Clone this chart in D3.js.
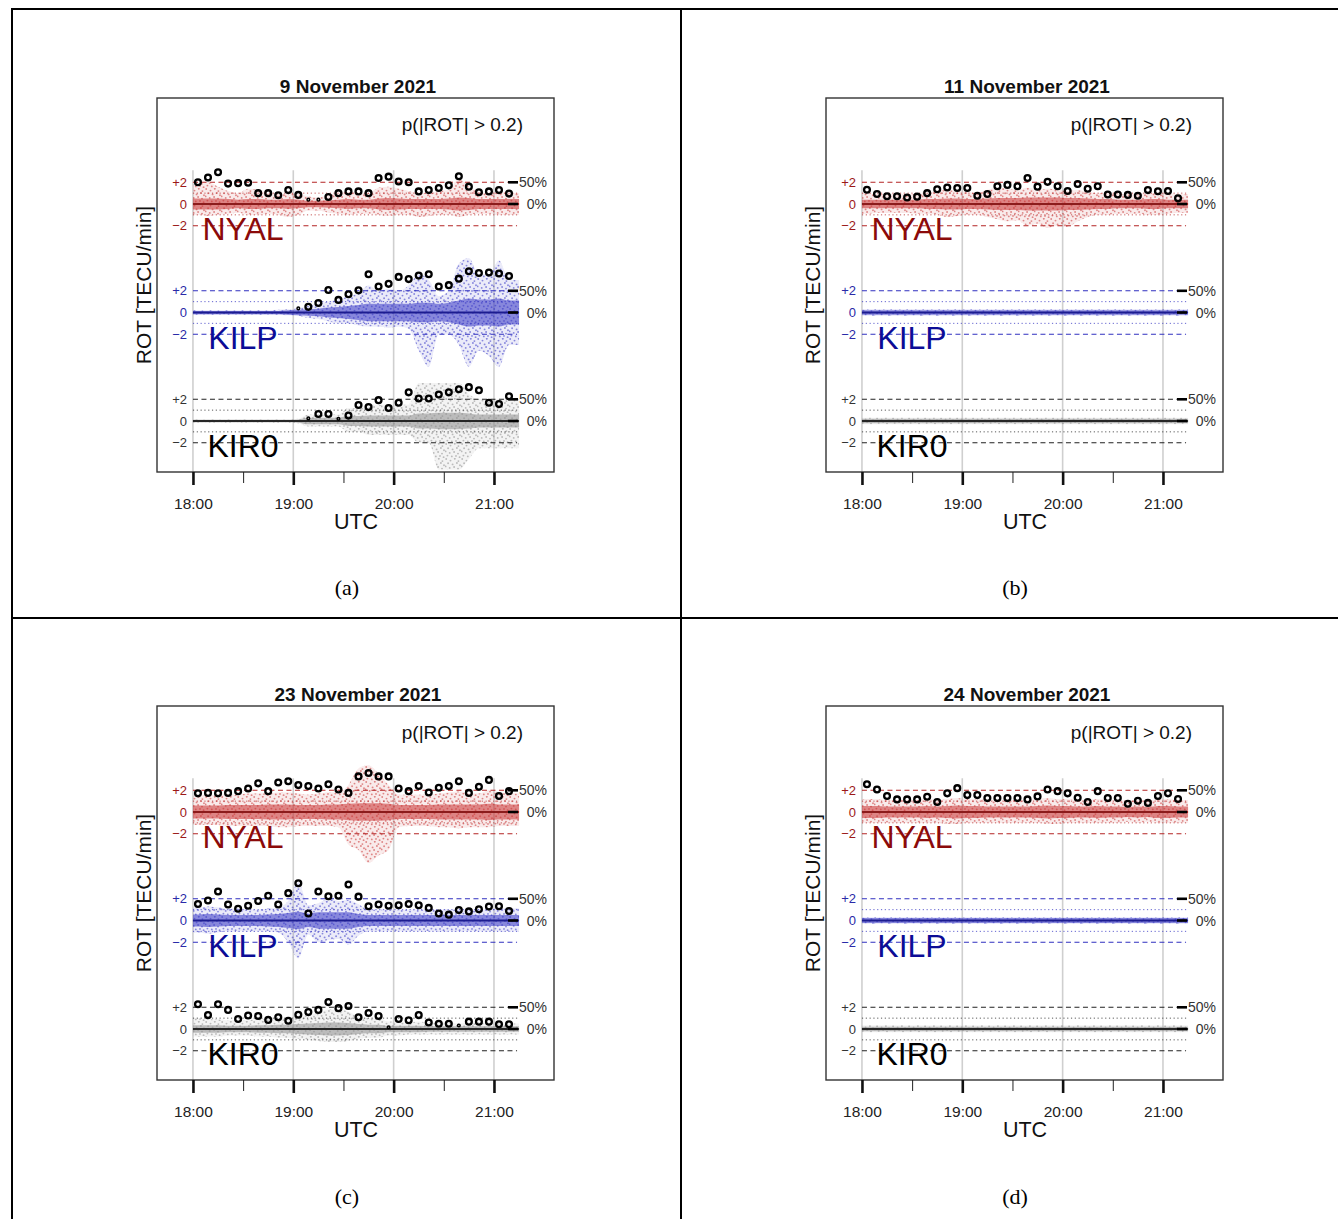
<!DOCTYPE html>
<html>
<head>
<meta charset="utf-8">
<script src="https://cdn.jsdelivr.net/npm/d3@7"></script>
<style>
  html, body { margin: 0; padding: 0; background: #fff; }
  svg { display: block; font-family: "Liberation Sans", Arial, Helvetica, sans-serif; }
</style>
</head>
<body>
<svg id="fig" width="1338" height="1219"></svg>
<script>
// ---------------------------------------------------------------
// Rate of TEC (ROT) at three stations, four evenings in Nov 2021.
// Circles: share of samples with |ROT| > 0.2 in 6-minute bins
// (right-hand % scale, 50% aligned with +2 TECU/min).
// Clouds: spread of ROT samples per bin (outer extent + dense core).
// ---------------------------------------------------------------

const days = ["9 November 2021", "11 November 2021", "23 November 2021", "24 November 2021"];
const panelTags = ["(a)", "(b)", "(c)", "(d)"];
const stations = ["NYAL", "KILP", "KIR0"];
const hourTicks = ["18:00", "19:00", "20:00", "21:00"];
const halfHourTicks = ["18:30", "19:30", "20:30"];
const rotTickValues = [2, 0, -2];
const rotTickLabels = ["+2", "0", "\u22122"];
const pctTickValues = [50, 0];
const pctTickLabels = ["50%", "0%"];
const dataStart = "18:00";
const dataEnd = "21:15";

// 6-minute bin centres
const binTimes = ["18:03","18:09","18:15","18:21","18:27","18:33","18:39","18:45","18:51","18:57",
                  "19:03","19:09","19:15","19:21","19:27","19:33","19:39","19:45","19:51","19:57",
                  "20:03","20:09","20:15","20:21","20:27","20:33","20:39","20:45","20:51","20:57",
                  "21:03","21:09"];

// ---------- 9 November 2021 ----------
const pct_NYAL_09 = [50,61,73,47,48,49,25,25,20,32,21,10,10,16,25,29,29,25,60,63,52,50,29,32,37,43,64,40,27,29,32,24];
const hi_NYAL_09  = [1.8,2.0,1.6,1.2,1.0,1.4,1.3,1.0,0.9,1.0,0.9,0.7,0.6,0.8,1.0,1.1,1.0,1.0,1.5,1.6,1.4,1.2,1.0,1.0,1.2,1.3,2.3,1.6,1.1,1.0,1.1,1.0];
const lo_NYAL_09  = [-1.0,-1.1,-1.0,-0.9,-0.8,-1.0,-1.0,-0.9,-1.0,-1.2,-1.0,-0.6,-0.6,-0.8,-0.9,-1.0,-0.9,-0.9,-1.0,-1.1,-1.0,-1.0,-1.2,-1.1,-1.0,-1.0,-1.2,-1.0,-0.9,-0.9,-1.0,-1.0];
const core_NYAL_09 = [0.5,0.5,0.5,0.45,0.4,0.45,0.45,0.4,0.4,0.45,0.4,0.3,0.3,0.35,0.4,0.45,0.4,0.4,0.5,0.55,0.5,0.45,0.45,0.45,0.45,0.5,0.6,0.55,0.45,0.45,0.45,0.45];

const pct_KILP_09 = [null,null,null,null,null,null,null,null,null,null,9.5,13,22,52,29,42,51,88,60,66,82,77,85,88,60,63,78,95,91,92,90,84];
const hi_KILP_09  = [0.2,0.2,0.2,0.2,0.2,0.2,0.2,0.2,0.25,0.3,0.4,0.6,0.8,1.0,1.2,1.5,1.8,2.5,2.0,2.2,2.0,2.5,3.5,3.0,1.5,2.0,4.5,5.0,3.5,3.5,4.8,3.0];
const lo_KILP_09  = [-0.2,-0.2,-0.2,-0.2,-0.2,-0.2,-0.2,-0.2,-0.2,-0.25,-0.3,-0.5,-0.6,-0.8,-1.0,-1.0,-1.2,-1.3,-1.3,-1.4,-1.3,-1.5,-3.5,-5.0,-2.0,-2.0,-3.0,-5.0,-3.5,-4.0,-5.0,-3.0];
const core_KILP_09 = [0.15,0.15,0.15,0.15,0.15,0.15,0.15,0.15,0.15,0.2,0.25,0.3,0.35,0.45,0.5,0.6,0.7,0.8,0.8,0.8,0.8,0.8,0.9,0.9,0.8,0.9,1.1,1.3,1.2,1.2,1.3,1.1];

const pct_KIR0_09 = [null,null,null,null,null,null,null,null,null,null,null,6,16,16,5,12.5,37,32,48,30,42,66,52,52,61,66,73,78,71,42,39,57];
const hi_KIR0_09  = [0.15,0.15,0.15,0.15,0.15,0.15,0.15,0.15,0.15,0.15,0.2,0.6,0.6,0.6,0.6,1.2,1.2,1.5,1.5,1.5,1.5,1.5,3.5,3.5,3.5,3.5,3.5,2.5,2.0,2.0,2.0,2.0];
const lo_KIR0_09  = [-0.15,-0.15,-0.15,-0.15,-0.15,-0.15,-0.15,-0.15,-0.15,-0.15,-0.2,-0.5,-0.5,-0.5,-0.5,-1.0,-1.0,-1.3,-1.3,-1.3,-1.3,-1.3,-2.0,-2.0,-4.5,-4.5,-4.5,-3.5,-2.5,-2.5,-2.5,-2.5];
const core_KIR0_09 = [0.12,0.12,0.12,0.12,0.12,0.12,0.12,0.12,0.12,0.12,0.15,0.3,0.3,0.3,0.3,0.45,0.45,0.5,0.5,0.5,0.5,0.5,0.7,0.7,0.75,0.75,0.75,0.7,0.6,0.6,0.6,0.6];

// ---------- 11 November 2021 ----------
const pct_NYAL_11 = [33,23,18,18,15,17,25,34,38,37,37,19,23,41,44,41,60,40,51,41,30,46,35,41,22,22,21,19,32,29.5,30,13];
const hi_NYAL_11  = [1.0,0.9,0.9,0.9,0.9,0.9,1.0,1.2,1.3,1.2,1.1,1.0,1.3,1.5,1.4,1.3,1.5,1.3,1.4,1.3,1.2,1.3,1.1,1.0,1.0,0.9,0.9,0.9,1.0,1.0,1.0,0.9];
const lo_NYAL_11  = [-0.9,-0.8,-0.8,-0.8,-0.8,-0.9,-0.9,-1.0,-1.2,-1.1,-1.0,-1.0,-1.2,-1.4,-1.6,-1.5,-2.0,-1.8,-2.2,-2.0,-2.1,-1.6,-1.2,-1.0,-1.0,-0.9,-0.9,-0.9,-1.0,-1.0,-0.9,-0.8];
const core_NYAL_11 = [0.4,0.4,0.4,0.4,0.4,0.4,0.45,0.45,0.5,0.5,0.45,0.45,0.5,0.55,0.55,0.55,0.6,0.6,0.6,0.6,0.55,0.55,0.5,0.45,0.45,0.4,0.4,0.4,0.45,0.45,0.4,0.4];

const pct_KILP_11 = [null,null,null,null,null,null,null,null,null,null,null,null,null,null,null,null,null,null,null,null,null,null,null,null,null,null,null,null,null,null,null,null];
const hi_KILP_11  = [0.3,0.3,0.3,0.3,0.3,0.3,0.3,0.3,0.3,0.3,0.3,0.3,0.3,0.3,0.3,0.3,0.3,0.3,0.3,0.3,0.3,0.3,0.3,0.3,0.3,0.3,0.3,0.3,0.3,0.3,0.3,0.3];
const lo_KILP_11  = [-0.3,-0.3,-0.3,-0.3,-0.3,-0.3,-0.3,-0.3,-0.3,-0.3,-0.3,-0.3,-0.3,-0.3,-0.3,-0.3,-0.3,-0.3,-0.3,-0.3,-0.3,-0.3,-0.3,-0.3,-0.3,-0.3,-0.3,-0.3,-0.3,-0.3,-0.3,-0.3];
const core_KILP_11 = [0.2,0.2,0.2,0.2,0.2,0.2,0.2,0.2,0.2,0.2,0.2,0.2,0.2,0.2,0.2,0.2,0.2,0.2,0.2,0.2,0.2,0.2,0.2,0.2,0.2,0.2,0.2,0.2,0.2,0.2,0.2,0.2];

const pct_KIR0_11 = [null,null,null,null,null,null,null,null,null,null,null,null,null,null,null,null,null,null,null,null,null,null,null,null,null,null,null,null,null,null,null,null];
const hi_KIR0_11  = [0.3,0.3,0.3,0.3,0.3,0.3,0.3,0.3,0.3,0.3,0.3,0.3,0.3,0.3,0.3,0.3,0.3,0.3,0.3,0.3,0.3,0.3,0.3,0.3,0.3,0.3,0.3,0.3,0.3,0.3,0.3,0.3];
const lo_KIR0_11  = [-0.3,-0.3,-0.3,-0.3,-0.3,-0.3,-0.3,-0.3,-0.3,-0.3,-0.3,-0.3,-0.3,-0.3,-0.3,-0.3,-0.3,-0.3,-0.3,-0.3,-0.3,-0.3,-0.3,-0.3,-0.3,-0.3,-0.3,-0.3,-0.3,-0.3,-0.3,-0.3];
const core_KIR0_11 = [0.2,0.2,0.2,0.2,0.2,0.2,0.2,0.2,0.2,0.2,0.2,0.2,0.2,0.2,0.2,0.2,0.2,0.2,0.2,0.2,0.2,0.2,0.2,0.2,0.2,0.2,0.2,0.2,0.2,0.2,0.2,0.2];

// ---------- 23 November 2021 ----------
const pct_NYAL_23 = [43,44,43,44,48,54,66,48,68,71,62,60,54,64,52,44,82,90,82,82,54,48,60,45,56,60,71,44,58,74,37,48];
const hi_NYAL_23  = [1.5,1.5,1.6,1.6,1.6,1.7,1.7,1.7,1.8,1.8,1.7,1.6,1.7,1.8,1.8,2.5,4.0,4.3,3.5,2.5,1.6,1.6,1.6,1.6,1.7,1.8,1.9,1.7,1.7,2.0,1.8,1.7];
const lo_NYAL_23  = [-1.2,-1.2,-1.2,-1.3,-1.3,-1.3,-1.3,-1.3,-1.4,-1.4,-1.3,-1.3,-1.3,-1.3,-1.4,-3.0,-3.5,-4.7,-4.0,-3.5,-1.4,-1.3,-1.3,-1.3,-1.4,-1.4,-1.5,-1.4,-1.4,-1.4,-1.3,-1.3];
const core_NYAL_23 = [0.6,0.6,0.6,0.65,0.65,0.65,0.65,0.7,0.7,0.7,0.65,0.65,0.65,0.7,0.7,0.75,0.8,0.8,0.8,0.75,0.65,0.65,0.65,0.65,0.7,0.7,0.7,0.7,0.7,0.75,0.7,0.7];

const pct_KILP_23 = [38,46,67,37,27,34,45,57,37,63,86,16,67,56,57,83,55,33,37,34,35,38,35,29,16,13.5,24,21,26,32,33,22];
const hi_KILP_23  = [1.2,1.3,1.2,1.1,1.1,1.0,1.0,1.1,1.2,1.8,3.5,1.4,1.6,2.0,1.8,1.9,1.5,1.0,1.0,1.0,1.0,1.0,1.0,1.0,1.0,1.0,1.0,1.0,1.0,1.0,1.1,1.1];
const lo_KILP_23  = [-1.1,-1.2,-1.1,-1.0,-1.0,-1.0,-1.0,-1.0,-1.1,-2.0,-3.5,-1.3,-2.0,-1.8,-1.7,-2.2,-1.4,-1.0,-1.0,-1.0,-1.0,-1.0,-1.0,-1.0,-1.0,-1.0,-1.0,-1.0,-1.0,-1.0,-1.0,-1.0];
const core_KILP_23 = [0.55,0.6,0.55,0.5,0.5,0.5,0.5,0.55,0.6,0.7,0.8,0.6,0.75,0.75,0.75,0.75,0.6,0.5,0.5,0.5,0.5,0.5,0.5,0.5,0.5,0.5,0.5,0.5,0.5,0.5,0.5,0.5];

const pct_KIR0_23 = [57,32,57,44,23,31,30,21,27,19,33,39,44,62,48,53,27,37,30,4,23,20,32,15,12,12,8,17,17,17,11,11];
const hi_KIR0_23  = [1.0,0.9,0.9,0.8,0.8,0.8,0.9,0.9,1.0,1.0,1.2,1.3,1.5,1.8,1.8,1.6,1.2,1.0,1.0,0.7,0.7,0.6,0.7,0.6,0.6,0.6,0.5,0.6,0.6,0.6,0.5,0.5];
const lo_KIR0_23  = [-0.7,-0.7,-0.7,-0.6,-0.6,-0.6,-0.7,-0.7,-0.8,-0.8,-0.9,-1.0,-1.1,-1.2,-1.2,-1.1,-0.9,-0.8,-0.8,-0.6,-0.6,-0.5,-0.5,-0.5,-0.5,-0.5,-0.5,-0.5,-0.5,-0.5,-0.5,-0.5];
const core_KIR0_23 = [0.35,0.35,0.35,0.3,0.3,0.3,0.35,0.35,0.4,0.4,0.45,0.5,0.55,0.6,0.6,0.55,0.45,0.4,0.4,0.3,0.3,0.3,0.3,0.25,0.25,0.25,0.25,0.25,0.25,0.25,0.25,0.25];

// ---------- 24 November 2021 ----------
const pct_NYAL_24 = [64,52,37,29,29,29,35,23,43,55,39,39,32,32,32,32,29,36,52,48,43,33,23,48,32,32,19,26,21,37,43,30];
const hi_NYAL_24  = [1.2,1.2,1.1,1.1,1.1,1.1,1.2,1.1,1.2,1.3,1.2,1.2,1.1,1.1,1.1,1.1,1.1,1.2,1.3,1.2,1.2,1.1,1.1,1.2,1.1,1.1,1.0,1.1,1.0,1.2,1.2,1.1];
const lo_NYAL_24  = [-1.0,-1.0,-1.0,-1.0,-1.0,-1.0,-1.0,-1.0,-1.1,-1.1,-1.0,-1.0,-1.0,-1.0,-1.0,-1.0,-1.0,-1.0,-1.1,-1.1,-1.0,-1.0,-1.0,-1.0,-1.0,-1.0,-0.9,-1.0,-0.9,-1.0,-1.0,-1.0];
const core_NYAL_24 = [0.55,0.55,0.5,0.5,0.5,0.5,0.55,0.5,0.55,0.6,0.55,0.55,0.5,0.5,0.5,0.5,0.5,0.55,0.6,0.55,0.55,0.5,0.5,0.55,0.5,0.5,0.45,0.5,0.45,0.55,0.55,0.5];

const pct_KILP_24 = [null,null,null,null,null,null,null,null,null,null,null,null,null,null,null,null,null,null,null,null,null,null,null,null,null,null,null,null,null,null,null,null];
const hi_KILP_24  = [0.3,0.3,0.3,0.3,0.3,0.3,0.3,0.3,0.3,0.3,0.3,0.3,0.3,0.3,0.3,0.3,0.3,0.3,0.3,0.3,0.3,0.3,0.3,0.3,0.3,0.3,0.3,0.3,0.3,0.3,0.3,0.3];
const lo_KILP_24  = [-0.3,-0.3,-0.3,-0.3,-0.3,-0.3,-0.3,-0.3,-0.3,-0.3,-0.3,-0.3,-0.3,-0.3,-0.3,-0.3,-0.3,-0.3,-0.3,-0.3,-0.3,-0.3,-0.3,-0.3,-0.3,-0.3,-0.3,-0.3,-0.3,-0.3,-0.3,-0.3];
const core_KILP_24 = [0.22,0.22,0.22,0.22,0.22,0.22,0.22,0.22,0.22,0.22,0.22,0.22,0.22,0.22,0.22,0.22,0.22,0.22,0.22,0.22,0.22,0.22,0.22,0.22,0.22,0.22,0.22,0.22,0.22,0.22,0.22,0.22];

const pct_KIR0_24 = [null,null,null,null,null,null,null,null,null,null,null,null,null,null,null,null,null,null,null,null,null,null,null,null,null,null,null,null,null,null,null,null];
const hi_KIR0_24  = [0.35,0.35,0.35,0.35,0.35,0.35,0.35,0.35,0.35,0.35,0.35,0.35,0.35,0.35,0.35,0.35,0.35,0.35,0.35,0.35,0.35,0.35,0.35,0.35,0.35,0.35,0.35,0.35,0.35,0.35,0.35,0.35];
const lo_KIR0_24  = [-0.3,-0.3,-0.3,-0.3,-0.3,-0.3,-0.3,-0.3,-0.3,-0.3,-0.3,-0.3,-0.3,-0.3,-0.3,-0.3,-0.3,-0.3,-0.3,-0.3,-0.3,-0.3,-0.3,-0.3,-0.3,-0.3,-0.3,-0.3,-0.3,-0.3,-0.3,-0.3];
const core_KIR0_24 = [0.2,0.2,0.2,0.2,0.2,0.2,0.2,0.2,0.2,0.2,0.2,0.2,0.2,0.2,0.2,0.2,0.2,0.2,0.2,0.2,0.2,0.2,0.2,0.2,0.2,0.2,0.2,0.2,0.2,0.2,0.2,0.2];

// Lookup table assembled from the arrays above: [day][station]
const series = [
  [ {pct: pct_NYAL_09, hi: hi_NYAL_09, lo: lo_NYAL_09, core: core_NYAL_09},
    {pct: pct_KILP_09, hi: hi_KILP_09, lo: lo_KILP_09, core: core_KILP_09},
    {pct: pct_KIR0_09, hi: hi_KIR0_09, lo: lo_KIR0_09, core: core_KIR0_09} ],
  [ {pct: pct_NYAL_11, hi: hi_NYAL_11, lo: lo_NYAL_11, core: core_NYAL_11},
    {pct: pct_KILP_11, hi: hi_KILP_11, lo: lo_KILP_11, core: core_KILP_11},
    {pct: pct_KIR0_11, hi: hi_KIR0_11, lo: lo_KIR0_11, core: core_KIR0_11} ],
  [ {pct: pct_NYAL_23, hi: hi_NYAL_23, lo: lo_NYAL_23, core: core_NYAL_23},
    {pct: pct_KILP_23, hi: hi_KILP_23, lo: lo_KILP_23, core: core_KILP_23},
    {pct: pct_KIR0_23, hi: hi_KIR0_23, lo: lo_KIR0_23, core: core_KIR0_23} ],
  [ {pct: pct_NYAL_24, hi: hi_NYAL_24, lo: lo_NYAL_24, core: core_NYAL_24},
    {pct: pct_KILP_24, hi: hi_KILP_24, lo: lo_KILP_24, core: core_KILP_24},
    {pct: pct_KIR0_24, hi: hi_KIR0_24, lo: lo_KIR0_24, core: core_KIR0_24} ]
];

// ---------------- styling / layout ----------------
const stationOffset = [0, -10, -20];            // vertical stacking, TECU/min
const pctPerUnit = 25;                            // 50 % drawn at +2 TECU/min
const cloudColor = ["#c83232", "#3434c4", "#8c8c8c"];
const meanColor  = ["#8c1c1c", "#1c1c90", "#262626"];
const refColor   = ["#b42424", "#3030c0", "#222222"];
const tickColor  = ["#9c1818", "#2a2aa8", "#333333"];
const nameColor  = ["#8b0a0a", "#0c0c96", "#000000"];

const plotW = 397, plotH = 374;
const panelOrigins = [[157, 98], [826, 98], [157, 706], [826, 706]];
const tagPos = [[347, 595], [1015, 595], [347, 1204], [1015, 1204]];

const toMin = s => { const [h, m] = s.split(":").map(Number); return (h - 18) * 60 + m; };
const binMin = binTimes.map(toMin);

const x = d3.scaleLinear().domain([-21.5, 215.9]).range([0, plotW]);
const y = d3.scaleLinear().domain([9.77, -24.7]).range([0, plotH]);

const svg = d3.select("#fig");

// table rules
const rules = svg.append("g").attr("stroke", "#000").attr("stroke-width", 2);
rules.append("line").attr("x1", 11).attr("x2", 1338).attr("y1", 9).attr("y2", 9);
rules.append("line").attr("x1", 12).attr("x2", 12).attr("y1", 8).attr("y2", 1219);
rules.append("line").attr("x1", 681).attr("x2", 681).attr("y1", 8).attr("y2", 1219);
rules.append("line").attr("x1", 12).attr("x2", 1338).attr("y1", 618).attr("y2", 618);

// speckle textures for the sparse part of each sample cloud
const defs = svg.append("defs");
defs.append("filter").attr("id", "soft").attr("x", "-5%").attr("y", "-20%").attr("width", "110%").attr("height", "140%")
  .append("feGaussianBlur").attr("stdDeviation", 0.7);
const speckle = [[1.2,1.0],[5.5,2.6],[9.8,0.7],[13.4,3.1],[3.1,5.2],[7.6,6.4],[11.9,5.0],[15.0,7.3],
                 [0.6,8.4],[4.7,9.9],[9.1,9.0],[13.0,10.6],[2.4,12.6],[6.8,13.4],[11.0,12.9],[14.6,14.2]];
cloudColor.forEach((c, si) => {
  const p = defs.append("pattern").attr("id", `speck${si}`).attr("patternUnits", "userSpaceOnUse")
    .attr("width", 16).attr("height", 15);
  p.selectAll("circle").data(speckle).join("circle")
    .attr("cx", d => d[0]).attr("cy", d => d[1]).attr("r", 0.95)
    .attr("fill", c).attr("fill-opacity", 0.55);
});

days.forEach((day, di) => {
  const [ox, oy] = panelOrigins[di];
  const g = svg.append("g").attr("transform", `translate(${ox},${oy})`);

  // vertical hour guides
  g.append("g").selectAll("line").data(hourTicks).join("line")
    .attr("x1", d => x(toMin(d))).attr("x2", d => x(toMin(d)))
    .attr("y1", y(3.1)).attr("y2", plotH)
    .attr("stroke", "#cfcfcf").attr("stroke-width", 1.6);

  stations.forEach((st, si) => {
    const s = series[di][si];
    const off = stationOffset[si];
    const rows = binMin.map((t, i) => ({t, hi: s.hi[i], lo: s.lo[i], core: s.core[i], p: s.pct[i]}));
    const env = [{...rows[0], t: toMin(dataStart)}, ...rows, {...rows[rows.length - 1], t: toMin(dataEnd)}];

    const sg = g.append("g");

    // sample cloud: sparse outer extent and dense core
    const outer = d3.area().x(d => x(d.t)).y0(d => y(off + d.lo)).y1(d => y(off + d.hi)).curve(d3.curveMonotoneX);
    sg.append("path").datum(env).attr("d", outer)
      .attr("fill", cloudColor[si]).attr("fill-opacity", 0.1).attr("filter", "url(#soft)");
    sg.append("path").datum(env).attr("d", outer).attr("fill", `url(#speck${si})`);
    sg.append("path").datum(env)
      .attr("d", d3.area().x(d => x(d.t)).y0(d => y(off - d.core)).y1(d => y(off + d.core)).curve(d3.curveMonotoneX))
      .attr("fill", cloudColor[si]).attr("fill-opacity", 0.55).attr("filter", "url(#soft)");

    // reference levels: ±2 dashed, ±1 dotted
    const x0 = x(toMin(dataStart)), x1 = x(toMin(dataEnd));
    sg.selectAll("line.dash").data([2, -2]).join("line").attr("class", "dash")
      .attr("x1", x0).attr("x2", x1 - 2).attr("y1", d => y(off + d)).attr("y2", d => y(off + d))
      .attr("stroke", refColor[si]).attr("stroke-width", 1.1).attr("stroke-dasharray", "5,3.5");
    sg.selectAll("line.dot").data([1, -1]).join("line").attr("class", "dot")
      .attr("x1", x0).attr("x2", x1).attr("y1", d => y(off + d)).attr("y2", d => y(off + d))
      .attr("stroke", refColor[si]).attr("stroke-opacity", 0.75).attr("stroke-width", 1).attr("stroke-dasharray", "1.2,2.6");

    // zero (mean) line
    sg.append("line").attr("x1", x0).attr("x2", x1).attr("y1", y(off)).attr("y2", y(off))
      .attr("stroke", meanColor[si]).attr("stroke-width", 2);

    // left ROT labels
    sg.selectAll("text.rt").data(rotTickValues).join("text").attr("class", "rt")
      .attr("x", 30).attr("y", d => y(off + d)).attr("dy", "0.36em")
      .attr("text-anchor", "end").attr("font-size", 13).attr("fill", tickColor[si])
      .text((d, i) => rotTickLabels[i]);

    // right % scale
    const pctY = p => y(off + p / pctPerUnit);
    sg.selectAll("line.pt").data(pctTickValues).join("line").attr("class", "pt")
      .attr("x1", 351).attr("x2", 361).attr("y1", pctY).attr("y2", pctY)
      .attr("stroke", "#000").attr("stroke-width", 2.6);
    sg.selectAll("text.pt").data(pctTickValues).join("text").attr("class", "pt")
      .attr("x", 390).attr("y", pctY).attr("dy", "0.36em")
      .attr("text-anchor", "end").attr("font-size", 14).attr("fill", "#333")
      .text((d, i) => pctTickLabels[i]);

    // station name
    sg.append("text").attr("x", 86).attr("y", y(off) + 36)
      .attr("text-anchor", "middle").attr("font-size", 32).attr("fill", nameColor[si])
      .text(st);

    // exceedance fractions
    sg.selectAll("circle").data(rows.filter(d => d.p !== null)).join("circle")
      .attr("cx", d => x(d.t)).attr("cy", d => pctY(d.p))
      .attr("r", d => d.p < 11 ? 1.3 : 2.9)
      .attr("fill", "none").attr("stroke", "#000")
      .attr("stroke-width", d => d.p < 11 ? 1.5 : 2.3);
  });

  // frame
  g.append("rect").attr("width", plotW).attr("height", plotH)
    .attr("fill", "none").attr("stroke", "#333").attr("stroke-width", 1.4);

  // time axis
  const ax = g.append("g").attr("transform", `translate(0,${plotH})`)
    .call(d3.axisBottom(x).tickValues(hourTicks.map(toMin)).tickFormat((d, i) => hourTicks[i])
      .tickSize(13).tickPadding(13));
  ax.select(".domain").remove();
  ax.selectAll("line").attr("stroke", "#111").attr("stroke-width", 2.6);
  ax.selectAll("text").attr("font-size", 15.5).attr("fill", "#222")
    .attr("font-family", '"Liberation Sans", Arial, Helvetica, sans-serif');
  const mx = g.append("g").attr("transform", `translate(0,${plotH})`)
    .call(d3.axisBottom(x).tickValues(halfHourTicks.map(toMin)).tickFormat("").tickSize(11));
  mx.select(".domain").remove();
  mx.selectAll("line").attr("stroke", "#222").attr("stroke-width", 1);

  g.append("text").attr("x", 199).attr("y", plotH + 57).attr("text-anchor", "middle")
    .attr("font-size", 21.5).attr("fill", "#111").text("UTC");

  // y label
  g.append("text").attr("transform", `translate(-6,${plotH / 2}) rotate(-90)`)
    .attr("text-anchor", "middle").attr("font-size", 21).attr("fill", "#111")
    .text("ROT [TECU/min]");

  // title and statistic note
  g.append("text").attr("x", 201).attr("y", -5).attr("text-anchor", "middle")
    .attr("font-size", 19).attr("font-weight", "bold").attr("fill", "#111").text(day);
  g.append("text").attr("x", 366).attr("y", 33).attr("text-anchor", "end")
    .attr("font-size", 19).attr("fill", "#111").text("p(|ROT| > 0.2)");

  // sub-figure tag
  svg.append("text").attr("x", tagPos[di][0]).attr("y", tagPos[di][1]).attr("text-anchor", "middle")
    .attr("font-family", '"Liberation Serif", "Times New Roman", serif').attr("font-size", 22)
    .attr("fill", "#000").text(panelTags[di]);
});
</script>
</body>
</html>
